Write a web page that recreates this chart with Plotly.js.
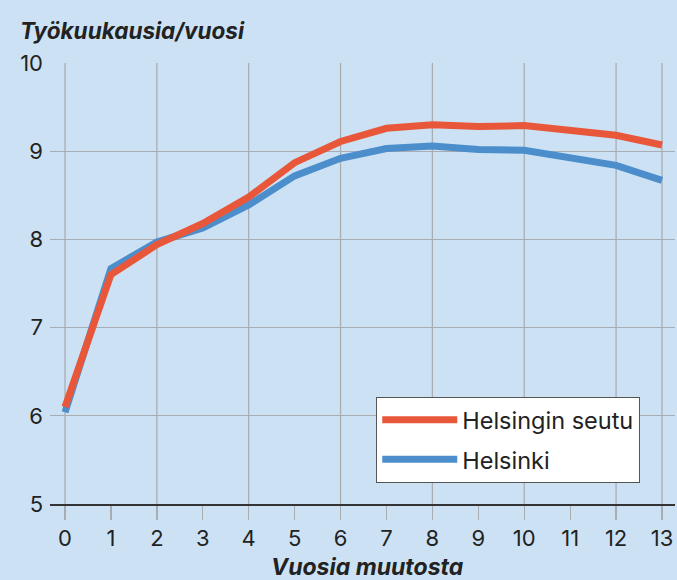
<!DOCTYPE html>
<html>
<head>
<meta charset="utf-8">
<script src="https://cdn.plot.ly/plotly-3.0.1.min.js"></script>
<style>html,body{margin:0;padding:0;background:#cce2f4;}#chart{width:677px;height:580px;}</style>
</head>
<body>
<div id="chart"></div>
<script>
const years = [0,1,2,3,4,5,6,7,8,9,10,11,12,13];
const helsinginSeutu = [6.10,7.60,7.94,8.18,8.48,8.87,9.11,9.26,9.30,9.28,9.29,9.24,9.18,9.07];
const helsinki = [6.04,7.67,7.97,8.13,8.39,8.72,8.92,9.03,9.06,9.02,9.01,8.93,8.84,8.67];
const gridX = [0,2,4,6,8,10,12,13];
const yTicks = [5,6,7,8,9,10];

const font = "Inter, 'Open Sans', sans-serif";
const bg = '#cce2f4';

const traces = [
  {x: years, y: helsinki, name: 'Helsinki', mode: 'lines', legendgroup: 'b', legendrank: 2,
   line: {color: '#4c8ecb', width: 7}},
  {x: years, y: helsinginSeutu, name: 'Helsingin seutu', mode: 'lines', legendgroup: 'a', legendrank: 1,
   line: {color: '#e9573a', width: 7}}
];

const shapes = gridX.map(v => ({
  type: 'line', xref: 'x', yref: 'paper', x0: v, x1: v, y0: 0, y1: 1,
  line: {color: '#a9adb2', width: 1.3}, layer: 'below'
}));

const layout = {
  width: 677, height: 580,
  paper_bgcolor: bg, plot_bgcolor: bg,
  margin: {l: 50, r: 2, t: 63, b: 76},
  font: {family: font, color: '#222', size: 22},
  showlegend: true,
  legend: {
    x: 0.522, y: 0.2426, xanchor: 'left', yanchor: 'top',
    bgcolor: '#ffffff', bordercolor: '#555', borderwidth: 1,
    traceorder: 'grouped', tracegroupgap: 6, itemwidth: 75,
    font: {family: font, size: 23.5, color: '#222'}
  },
  xaxis: {
    range: [-0.327, 13.283], tickvals: years, ticktext: years.map(String),
    showgrid: false, zeroline: false,
    ticks: 'outside', ticklen: 14, tickcolor: '#a9adb2', tickwidth: 1.3,
    showline: true, linecolor: '#333', linewidth: 2,
    tickfont: {size: 22}
  },
  yaxis: {
    range: [5, 10], tickvals: yTicks, ticktext: yTicks.map(String),
    showgrid: true, gridcolor: '#a9adb2', gridwidth: 1.3,
    zeroline: false, ticks: '', ticklabelstandoff: 6,
    tickfont: {size: 22}
  },
  shapes: shapes,
  annotations: [{
    xref: 'paper', yref: 'paper', x: -0.05, y: 1, xanchor: 'left', yanchor: 'bottom',
    yshift: 17, xshift: -1,
    text: '<b><i>Työkuukausia/vuosi</i></b>', showarrow: false,
    font: {size: 22.5, color: '#222'}
  }, {
    xref: 'paper', yref: 'paper', x: 0.5, y: 0, xanchor: 'center', yanchor: 'middle',
    yshift: -63, xshift: 5,
    text: '<b><i>Vuosia muutosta</i></b>', showarrow: false,
    font: {size: 23, color: '#222'}
  }]
};

Plotly.newPlot('chart', traces, layout, {displayModeBar: false, staticPlot: true});
</script>
</body>
</html>
